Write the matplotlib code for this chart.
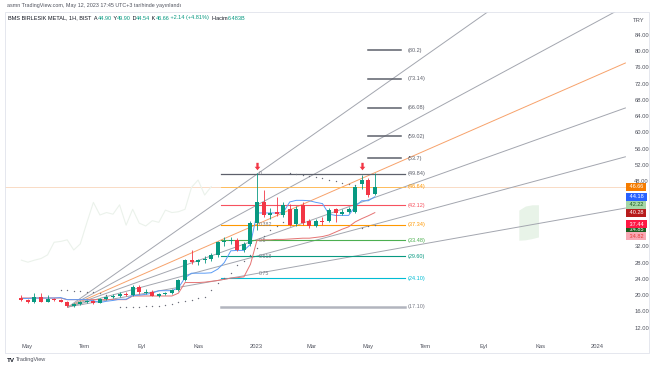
import matplotlib
matplotlib.use("Agg")
import matplotlib.pyplot as plt
import matplotlib.dates as mdates
from matplotlib.path import Path
from matplotlib.patches import Rectangle
import numpy as np
import pandas as pd

plt.rcParams["font.family"] = ["Liberation Sans", "DejaVu Sans"]

# ── Weekly candles (BMS BIRLESIK METAL, 1H) ────────────────────────────────
first_week = "2022-04-25"
opens = [19.3, 18.7, 18.3, 19.6, 18.3, 19.0, 18.8, 18.3, 17.4, 17.9,
         18.2, 18.5, 18.1, 19.0, 19.5, 19.9, 20.3, 20.0, 22.0, 20.6,
         20.9, 19.9, 20.2, 20.5, 21.3, 23.7, 28.6, 28.1, 28.6, 29.0,
         29.9, 33.0, 33.2, 33.6, 31.1, 32.6, 37.8, 42.8, 39.7, 40.5,
         39.8, 41.2, 37.5, 42.2, 38.2, 37.0, 38.3, 38.2, 41.1, 39.9,
         40.5, 40.5, 47.2, 48.3, 44.90]
highs = [20.0, 19.0, 20.6, 20.5, 20.0, 19.4, 19.0, 18.5, 18.1, 18.6,
         18.8, 18.7, 19.2, 19.8, 20.3, 20.8, 20.7, 22.6, 22.4, 21.4,
         21.2, 20.6, 20.8, 21.6, 24.0, 29.0, 31.1, 29.0, 29.6, 30.3,
         33.4, 34.3, 34.2, 34.0, 33.0, 38.2, 49.9, 45.8, 41.5, 44.2,
         42.8, 42.5, 41.8, 42.8, 38.8, 38.8, 39.2, 41.4, 41.5, 41.2,
         41.6, 47.0, 49.6, 48.8, 49.90]
lows = [18.5, 18.1, 18.1, 18.2, 18.2, 18.6, 18.2, 17.1, 17.2, 17.7,
        18.0, 17.9, 18.0, 18.8, 19.2, 19.6, 19.9, 19.9, 20.4, 20.3,
        19.7, 19.6, 20.0, 20.3, 21.0, 23.5, 27.6, 27.5, 28.0, 28.5,
        29.5, 32.2, 32.5, 30.8, 30.5, 32.2, 36.0, 39.3, 38.8, 39.5,
        39.2, 36.9, 37.0, 37.3, 36.6, 36.7, 37.2, 38.0, 38.0, 39.6,
        40.2, 40.3, 46.2, 44.0, 44.54]
closes = [18.7, 18.3, 19.6, 18.3, 19.0, 18.8, 18.3, 17.4, 17.9, 18.3,
          18.5, 18.1, 19.0, 19.5, 19.9, 20.3, 20.1, 22.0, 20.7, 20.9,
          19.9, 20.2, 20.5, 21.3, 23.7, 28.6, 28.1, 28.6, 29.0, 29.9,
          33.0, 33.2, 33.6, 31.1, 32.6, 37.8, 42.8, 39.7, 40.3, 39.9,
          42.2, 37.2, 41.1, 37.7, 37.0, 38.3, 37.9, 40.9, 40.3, 40.5,
          41.1, 46.5, 48.3, 44.6, 46.66]

# ── Indicator lines ────────────────────────────────────────────────────────
conversion_line = [19.2, 19.2, 19.3, 19.3, 19.3, 19.3, 19.4, 18.9, 18.9, 18.9,
                   18.9, 18.6, 18.2, 18.5, 18.7, 19.0, 19.0, 19.9, 20.0, 20.2,
                   20.5, 21.1, 21.1, 21.1, 21.8, 24.3, 25.4, 25.4, 25.4, 25.5,
                   26.4, 28.0, 30.9, 31.0, 31.0, 32.5, 40.2, 40.2, 40.2, 40.2,
                   40.3, 42.9, 43.3, 43.3, 43.2, 42.8, 42.5, 39.9, 39.6, 39.6,
                   39.6, 41.8, 43.2, 43.2, 44.18]
base_line = [19.3, 19.3, 19.3, 19.3, 19.3, 19.3, 19.3, 18.9, 18.9, 18.9,
             18.9, 18.9, 18.9, 18.9, 18.9, 18.9, 18.9, 19.8, 19.8, 19.8,
             19.8, 19.8, 19.8, 19.8, 20.5, 23.1, 23.1, 23.1, 23.2, 23.4,
             23.6, 23.9, 24.2, 24.3, 24.5, 27.6, 33.5, 33.6, 33.6, 33.7,
             33.7, 33.8, 33.9, 34.0, 34.0, 34.2, 34.4, 34.8, 35.5, 36.2,
             36.8, 38.0, 38.8, 39.5, 40.28]
nan = np.nan
sar_dots = [nan, nan, nan, nan, nan, nan, 21.3, 21.2, 21.1, 21.0,
            20.9, 20.7, 20.5, 20.1, 19.6, 17.1, 17.1, 17.2, 17.2, 17.3,
            17.3, 17.4, 17.6, 17.9, 18.2, 18.5, 18.9, 19.2, 19.5, 21.3,
            23.0, 24.2, 25.4, 27.4, 28.5, 29.8, 31.5, 34.5, 36.0, 37.0,
            38.0, 49.9, 49.8, 49.6, 49.3, 49.0, 48.7, 48.4, 48.0, 47.6,
            47.4, 47.0, 36.6, 36.9, 37.2]
lag_shift = 25

cloud_weeks = ["2023-10-09", "2023-10-16", "2023-10-23", "2023-10-30"]
cloud_top = [40.9, 41.9, 42.2, 42.22]
cloud_bottom = [33.5, 33.6, 33.9, 34.3]

# ── Drawings ───────────────────────────────────────────────────────────────
fib_levels = [49.84, 46.64, 42.12, 37.34, 33.48, 29.60, 24.10, 17.10]
fib_texts = ["(49.84)", "(46.64)", "(42.12)", "(37.34)", "(33.48)", "(29.60)", "(24.10)", "(17.10)"]
fib_colors = ["#5d606b", "#ffb74d", "#f7525f", "#ff9800", "#4caf50", "#089981", "#00bcd4", "#b2b5be"]
fib_widths = [0.9, 0.6, 0.8, 0.8, 0.8, 0.8, 0.8, 1.8]
fib_start, fib_end = "2022-11-25", "2023-06-09"

ext_levels = [80.2, 73.14, 66.08, 59.02, 53.7]
ext_texts = ["(80.2)", "(73.14)", "(66.08)", "(59.02)", "(53.7)"]
ext_start, ext_end = "2023-05-01", "2023-06-05"

ratio_texts = ["0", "0.382", "0.5", "0.618", "0.75"]
ratio_levels = [49.84, 37.34, 33.48, 29.60, 25.3]
ratio_date = "2023-01-04"

fan_origin = ("2022-06-14", 17.10)
fan_end_date = "2024-01-31"
fan_end_prices = [113.4, 91.0, 77.05, 66.0, 54.0, 41.4]
fan_colors = ["#a3a6af", "#a3a6af", "#f7a26b", "#a3a6af", "#a3a6af", "#a3a6af"]

arrow_weeks = [36, 52]
arrow_price = 51.4

# ── Right-hand price scale labels ─────────────────────────────────────────
tag_values = [46.66, 44.18, 42.22, 40.28, 34.85, 37.44, 34.82]
tag_bg = ["#f57c00", "#2962ff", "#a5d6a7", "#b71c1c", "#1b5e20", "#ff1744", "#f8a9b6"]
tag_fg = ["white", "white", "#1b5e20", "white", "white", "white", "#e53935"]
tag_nudge = [0, 0, 0, 0, 1.3, 0, -0.3]

price_ticks = [12, 16, 20, 24, 28, 32, 48, 52, 56, 60, 64, 68, 72, 76, 80, 84]
month_ticks = ["2022-05-01", "2022-07-01", "2022-09-01", "2022-11-01", "2023-01-01", "2023-03-01",
               "2023-05-01", "2023-07-01", "2023-09-01", "2023-11-01", "2024-01-01"]
month_labels = ["May", "Tem", "Eyl", "Kas", "2023", "Mar", "May", "Tem", "Eyl", "Kas", "2024"]

GREEN, RED = "#089981", "#f23645"
W, H = 654, 366

fig = plt.figure(figsize=(W / 100, H / 100), dpi=100)
fig.patch.set_facecolor("white")
ax = fig.add_axes([5 / W, 1 - 337 / H, 621 / W, 325 / H])

d2n = lambda s: mdates.date2num(pd.Timestamp(s))
xs = mdates.date2num(pd.date_range(first_week, periods=len(closes), freq="7D"))
may = d2n("2022-05-01")
ax.set_xlim(may - 22 / 0.935, may + 599 / 0.935)
ax.set_ylim(9.72, 89.58)

# current price line
ax.axhline(closes[-1], color="#f9d6bb", lw=0.6, zorder=1)

# fan
ox, oy = d2n(fan_origin[0]), fan_origin[1]
for p, c in zip(fan_end_prices, fan_colors):
    ax.plot([ox, d2n(fan_end_date)], [oy, p], color=c, lw=0.7, zorder=2)

# lagging span and projected cloud
ax.plot(xs[:-lag_shift], closes[lag_shift:], color="#ebf2eb", lw=0.8, zorder=1)
cx = [d2n(d) for d in cloud_weeks]
ax.fill_between(cx, cloud_bottom, cloud_top, color="#e8f3e8", lw=0, zorder=1)

# fib retracement
fs, fe = d2n(fib_start), d2n(fib_end)
for v, t, c, w in zip(fib_levels, fib_texts, fib_colors, fib_widths):
    ax.plot([fs, fe], [v, v], color=c, lw=w, zorder=2)
    tc = "#ff9800" if t == "(46.64)" else ("#787b86" if t == "(17.10)" else c)
    ax.text(fe + 3, v, t, color=tc, fontsize=4, va="center", ha="left")
for v, t in zip(ext_levels, ext_texts):
    ax.plot([d2n(ext_start), d2n(ext_end)], [v, v], color="#5d606b", lw=1.1, zorder=2)
    ax.text(fe + 3, v, t, color="#5d606b", fontsize=4, va="center", ha="left")
for v, t in zip(ratio_levels, ratio_texts):
    ax.text(d2n(ratio_date), v, t, color="#787b86", fontsize=3.8, va="center", ha="left")

# indicator lines
ax.plot(xs, base_line, color="#e57373", lw=0.7, zorder=3)
ax.plot(xs, conversion_line, color="#5b9cf6", lw=0.7, zorder=3)
ax.plot(xs, sar_dots, ls="none", marker="o", ms=1.0, mew=0, color="#6a6d78", zorder=3)

# candles
for x, o, h, l, c in zip(xs, opens, highs, lows, closes):
    col = GREEN if c >= o else RED
    ax.vlines(x, l, h, color=col, lw=0.6, zorder=4)
    ax.bar(x, max(abs(c - o), 0.25), bottom=min(o, c), width=4.3, color=col, lw=0, zorder=5)

# red marker arrows
arrow = Path([(-0.25, 1.0), (0.25, 1.0), (0.25, 0.15), (0.6, 0.15), (0.0, -0.6),
              (-0.6, 0.15), (-0.25, 0.15), (-0.25, 1.0)])
ax.scatter([xs[i] for i in arrow_weeks], [arrow_price] * len(arrow_weeks), marker=arrow,
           s=45, color="#f23645", lw=0, zorder=6)

# axes styling
for s in ax.spines.values():
    s.set_visible(False)
ax.set_xticks([d2n(d) for d in month_ticks])
ax.set_xticklabels(month_labels)
ax.yaxis.tick_right()
ax.set_yticks(price_ticks)
ax.set_yticklabels([f"{v:.2f}" for v in price_ticks])
ax.tick_params(axis="both", length=0, labelsize=4.2, labelcolor="#50535e")
ax.tick_params(axis="x", pad=5)
ax.tick_params(axis="y", pad=6)

ytr = ax.get_yaxis_transform()
for v, bg, fg, n in zip(tag_values, tag_bg, tag_fg, tag_nudge):
    ax.text(1.003, v + n, f" {v:.2f} ", transform=ytr, fontsize=4, color=fg, va="center", ha="left",
            bbox=dict(boxstyle="square,pad=0.25", fc=bg, ec="none"), zorder=10, clip_on=False)
fig.text(633 / W, 1 - 20 / H, "TRY", fontsize=4.2, color="#50535e", va="center")

# frame
fig.add_artist(Rectangle((5 / W, 1 - 353 / H), 644 / W, 341 / H, transform=fig.transFigure,
                         fill=False, ec="#e0e3eb", lw=0.6))

# header texts
fig.text(7 / W, 1 - 6 / H, "asmn TradingView.com, May 12, 2023 17:45 UTC+3 tarihinde yayınlandı",
         fontsize=3.9, color="#50535e", va="center")
parts = [("BMS BIRLESIK METAL, 1H, BIST  A", "#131722"), ("44.90", GREEN), (" Y", "#131722"),
         ("49.90", GREEN), (" D", "#131722"), ("44.54", GREEN), (" K", "#131722"),
         ("46.66", GREEN), (" +2.14 (+4.81%)", GREEN), ("  Hacim", "#131722"), ("6.483B", GREEN)]
r = fig.canvas.get_renderer()
probe = fig.text(0, 0, "X", fontsize=4)
w_x = probe.get_window_extent(r).width
prefix = ""
for txt, col in parts:
    probe.set_text(prefix + "X")
    x_off = probe.get_window_extent(r).width - w_x if prefix else 0
    fig.text((8 + x_off) / W, 1 - 18 / H, txt, fontsize=4, color=col, va="center", ha="left")
    prefix += txt
probe.remove()

fig.text(7 / W, 1 - 360 / H, "TV", fontsize=4.5, weight="bold", color="#131722", va="center")
fig.text(16 / W, 1 - 360 / H, "TradingView", fontsize=4, color="#50535e", va="center")

fig.savefig("out.png", dpi=100)
